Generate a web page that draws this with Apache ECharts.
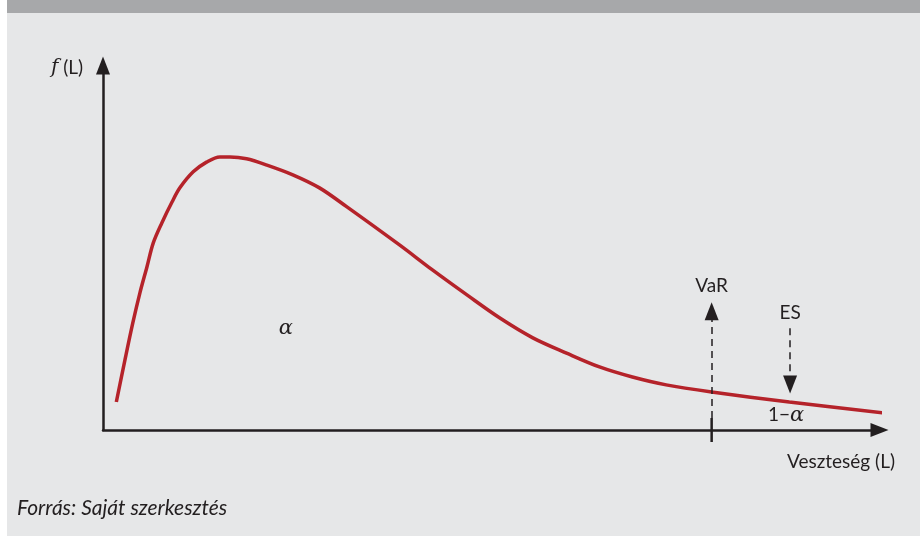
<!DOCTYPE html>
<html>
<head>
<meta charset="utf-8">
<script src="https://cdn.jsdelivr.net/npm/echarts@6/dist/echarts.min.js"></script>
<style>
  html, body { margin: 0; padding: 0; background: #ffffff; }
  #main { width: 920px; height: 536px; }
</style>
</head>
<body>
<div id="main"></div>
<script>
// loss density curve (arbitrary units)
var lossX = [1.7, 2.8, 3.8, 4.7, 5.6, 6.4, 7.5, 8.8, 9.8, 11.5, 13.2, 14.9, 16.2, 18.3, 20.9, 24.2, 27.6, 31.1,
             37.8, 42.0, 46.4, 50.6, 54.8, 59.1, 63.3, 67.5, 71.8, 77.6, 87.5, 99.4];
var density = [7.5, 18.8, 28.7, 36.7, 43.7, 50.1, 55.5, 61.1, 64.9, 69.2, 71.8, 73.2, 73.2, 72.7, 71.0, 68.4, 64.9, 59.8,
               49.6, 42.9, 36.2, 30.0, 24.7, 20.6, 16.9, 14.2, 12.1, 10.2, 7.5, 4.6];

// annotation positions
var varX = 77.6;
var esX = 87.6;
var varArrow = [3.2, 31.8];   // dashed line from -> to (arrow up)
var esArrow = [27.3, 12.2];   // dashed line from -> to (arrow down)
var tickHalf = 12;            // px, VaR tick on the loss axis
var labels = [
  { text: 'VaR', x: 77.6, y: 38.6 },
  { text: 'ES', x: 87.6, y: 31.4 },
  { text: '1\u2212{a|\u03b1}', x: 87.1, y: 4.0 },
  { text: '{a|\u03b1}', x: 23.3, y: 27.3 }
];

var chart = echarts.init(document.getElementById('main'));
var axisColor = '#231f20';
var textFont = 'Lato, "Open Sans", sans-serif';
var rich = { a: { fontFamily: '"DejaVu Serif", serif', fontStyle: 'italic', fontSize: 21, color: axisColor } };

var curve = lossX.map(function (x, i) { return [x, density[i]]; });

var option = {
  backgroundColor: '#ffffff',
  animation: false,
  graphic: [
    { type: 'rect', z: -10, shape: { x: 7, y: 0, width: 913, height: 536 }, style: { fill: '#e6e7e8' } },
    { type: 'rect', z: -9, shape: { x: 7, y: 0, width: 913, height: 13 }, style: { fill: '#a7a8aa' } },
    {
      type: 'text', x: 51, y: 68,
      style: {
        text: '{f|f} (L)', fill: axisColor, font: '19px ' + textFont, verticalAlign: 'middle',
        rich: { f: { fontFamily: '"DejaVu Serif", serif', fontStyle: 'italic', fontSize: 20, fill: axisColor } }
      }
    },
    {
      type: 'text', x: 895, y: 462,
      style: { text: 'Veszteség (L)', fill: axisColor, font: '19px ' + textFont, align: 'right', verticalAlign: 'middle' }
    },
    {
      type: 'text', x: 17, y: 508,
      style: { text: 'Forrás: Saját szerkesztés', fill: axisColor, font: 'italic 21px ' + textFont, verticalAlign: 'middle' }
    }
  ],
  grid: { left: 103, right: 40.5, top: 65.5, bottom: 106 },
  xAxis: {
    type: 'value', min: 0, max: 99,
    splitLine: { show: false }, axisTick: { show: false }, axisLabel: { show: false },
    axisLine: { show: true, onZero: false, symbol: ['none', 'triangle'], symbolSize: [14, 18],
      lineStyle: { color: axisColor, width: 2.5 } }
  },
  yAxis: {
    type: 'value', min: 0, max: 97.7,
    splitLine: { show: false }, axisTick: { show: false }, axisLabel: { show: false },
    axisLine: { show: true, onZero: false, symbol: ['none', 'triangle'], symbolSize: [14, 18],
      lineStyle: { color: axisColor, width: 2.5 } }
  },
  series: [
    {
      type: 'line',
      data: curve,
      smooth: 0.33,
      showSymbol: false,
      clip: false,
      lineStyle: { color: '#b5232a', width: 3.5 },
      markLine: {
        silent: true,
        animation: false,
        symbolSize: [14, 18],
        label: { show: false },
        lineStyle: { type: [7, 5], color: axisColor, width: 1.5 },
        data: [
          [
            { coord: [varX, varArrow[0]], symbol: 'none' },
            { coord: [varX, varArrow[1]], symbol: 'triangle' }
          ],
          [
            { coord: [esX, esArrow[0]], symbol: 'none' },
            { coord: [esX, esArrow[1]], symbol: 'triangle' }
          ]
        ]
      },
      markPoint: {
        silent: true,
        symbol: 'circle',
        symbolSize: 0,
        data: labels.map(function (l) {
          return {
            coord: [l.x, l.y],
            label: {
              show: true, position: 'inside', formatter: l.text,
              color: axisColor, fontSize: 19, fontFamily: textFont, rich: rich
            }
          };
        })
      }
    }
  ]
};
chart.setOption(option);

// VaR tick crossing the loss axis, placed through the chart's own scale
var p = chart.convertToPixel({ gridIndex: 0 }, [varX, 0]);
chart.setOption({
  graphic: [{
    type: 'line', id: 'varTick',
    shape: { x1: p[0], y1: p[1] - tickHalf, x2: p[0], y2: p[1] + tickHalf },
    style: { stroke: axisColor, lineWidth: 2.5 }
  }]
});
</script>
</body>
</html>
